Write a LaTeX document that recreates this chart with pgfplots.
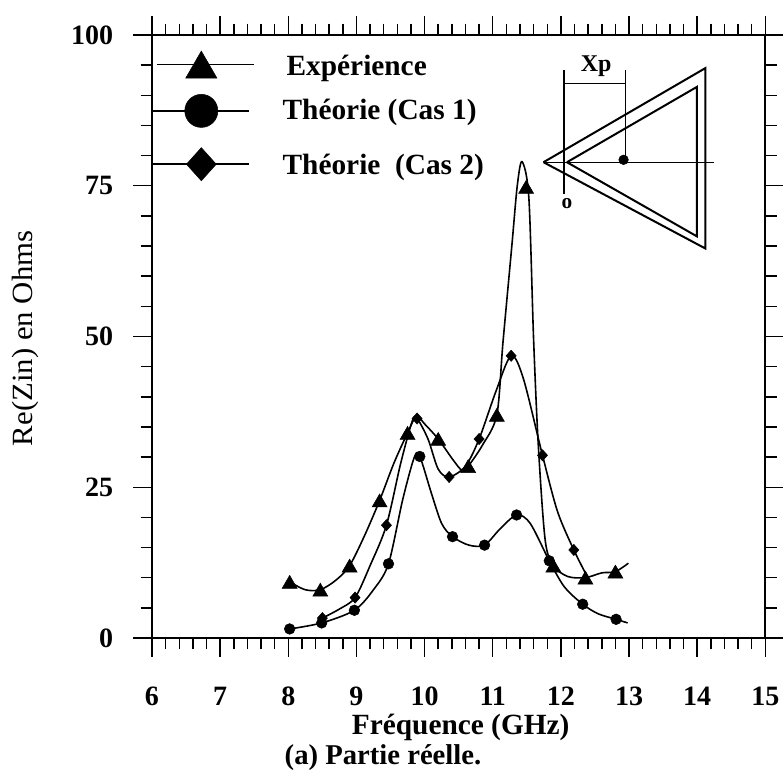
\documentclass[border=0pt]{standalone}
\usepackage{pgfplots}
\pgfplotsset{compat=1.18}
\usepackage{fontspec}
\setmainfont{Liberation Serif}
\usetikzlibrary{plotmarks}
\newcommand{\legimg}[4]{%
  \begin{scope}[yshift=#4]
  \draw[overlay,black,line width=1.3pt] (#1,0pt)--++(73pt,0pt);
  \draw[overlay,black,fill=black,mark options={solid,fill=black,#3}] plot[mark=#2] coordinates {(37pt,0pt)};
  \end{scope}
  \path[draw=none] (0pt,0pt)--(98pt,0pt);}
\begin{document}
\begin{tikzpicture}
\path[use as bounding box] (-114pt,-104.25pt) rectangle (473.25pt,478.5pt);
\begin{axis}[
  scale only axis, width=460pt, height=452.25pt,
  xmin=6, xmax=15, ymin=0, ymax=100,
  clip=false,
  axis line style={line width=1.5pt},
  xtick={6,...,15}, ytick={0,25,50,75,100},
  minor x tick num=4, minor y tick num=4,
  tick align=outside,
  xticklabel pos=bottom, yticklabel pos=left,
  major tick length=14pt, minor tick length=8.5pt,
  every tick/.style={black,line width=1.1pt},
  /pgf/number format/assume math mode=true,
  tick label style={font=\fontsize{21}{23}\selectfont\bfseries,inner sep=0pt},
  xticklabel style={yshift=-22.5pt},
  yticklabel style={xshift=-15pt},
  legend style={draw=none,fill=none,inner sep=0pt,outer sep=0pt,at={(axis cs:6,100.3)},anchor=north west,
    row sep=0pt,column sep=0pt,
    nodes={inner sep=0pt,outer sep=0pt,font=\fontsize{22}{24}\selectfont\bfseries}},
  legend cell align=left,
]
% curves
\addplot[forget plot,black,line width=1.2pt,smooth,tension=0.5] coordinates {
 (8.02,9.3)(8.25,8.0)(8.47,8.0)(8.7,9.6)(8.90,12)(9.12,17)(9.34,22.8)(9.55,29)(9.75,34)(9.88,36.8)(10.0,35.5)(10.2,33)(10.42,29.5)(10.55,27.8)(10.64,28.5)(10.85,32)(11.06,37)(11.15,49)(11.28,65)(11.36,75)(11.43,79)(11.53,73)(11.6,49.4)(11.67,31.7)(11.77,16.2)(11.89,12)(12.1,10.2)(12.36,10)(12.6,10.8)(12.8,11)(12.99,12.4)};
\addplot[forget plot,black,line width=1.2pt,smooth,tension=0.5] coordinates {
 (8.02,1.5)(8.49,2.5)(8.97,4.6)(9.25,8)(9.47,12.3)(9.68,23)(9.85,30)(9.93,30.1)(10.1,24)(10.25,19)(10.41,16.8)(10.65,15.4)(10.88,15.4)(11.1,18)(11.35,20.4)(11.55,19)(11.83,12.8)(12.05,8.5)(12.32,5.6)(12.55,4)(12.81,3.1)(12.98,2.5)};
\addplot[forget plot,black,line width=1.2pt,smooth,tension=0.5] coordinates {
 (8.5,3.3)(8.75,4.8)(8.98,6.7)(9.2,12)(9.44,18.7)(9.65,29)(9.82,36)(9.89,36.4)(10.05,33)(10.2,28)(10.36,26.7)(10.6,28.5)(10.8,33)(11.05,41)(11.27,46.8)(11.45,43)(11.73,30.3)(11.95,21)(12.19,14.6)(12.4,9.9)};
% marks and legend
\addplot[only marks,mark=triangle*,mark size=6.5pt,mark options={fill=black,draw=black,yshift=-1.6pt},
  legend image code/.code={\legimg{3.75pt}{triangle*}{mark size=13.5pt,yshift=-3.4pt}{-6.9pt}}] coordinates {
 (8.02,9.3)(8.47,8.0)(8.90,12)(9.34,22.8)(9.75,34)(10.2,33)(10.64,28.5)(11.06,37)(11.49,74.8)(11.89,12)(12.36,10)(12.8,11)};
\addlegendentry{\rule{0pt}{31.75pt}\smash{\hspace{3pt}Expérience}}
\addplot[only marks,mark=*,mark size=4pt,mark options={fill=black,draw=black},
  legend image code/.code={\legimg{0pt}{*}{mark size=12.4pt}{-8.4pt}}] coordinates {
 (8.02,1.5)(8.49,2.5)(8.97,4.6)(9.47,12.3)(9.93,30.1)(10.41,16.8)(10.88,15.4)(11.35,20.4)(11.83,12.8)(12.32,5.6)(12.81,3.1)};
\addlegendentry{\rule{0pt}{31.75pt}\smash{Théorie (Cas 1)}}
\addplot[only marks,mark=diamond*,mark size=4.2pt,mark options={fill=black,draw=black,xscale=1.2},
  legend image code/.code={\legimg{0pt}{diamond*}{mark size=12.4pt,xscale=1.2}{-11.4pt}}] coordinates {
 (8.5,3.3)(8.98,6.7)(9.44,18.7)(9.89,36.4)(10.36,26.7)(10.8,33)(11.27,46.8)(11.73,30.3)(12.19,14.6)};
\addlegendentry{\rule{0pt}{39.25pt}\smash{Théorie\ \ (Cas 2)}}
% inset antenna
\addplot[forget plot,black,line width=1.5pt] coordinates {(11.745,78.9)(14.119,94.5)(14.119,64.6)(11.745,78.9)};
\addplot[forget plot,black,line width=1.5pt] coordinates {(12.089,78.9)(13.997,91.4)(13.997,66.6)(12.089,78.9)};
\addplot[forget plot,black,line width=1pt] coordinates {(11.745,78.9)(14.241,78.9)};
\addplot[forget plot,black,line width=1.5pt] coordinates {(12.053,94.2)(12.053,73.7)};
\addplot[forget plot,black,line width=1.2pt] coordinates {(12.949,94.2)(12.949,79.3)};
\addplot[forget plot,black,line width=1pt] coordinates {(12.053,92)(12.949,92)};
\addplot[forget plot,only marks,mark=*,mark size=3.6pt,mark options={fill=black,draw=black}] coordinates {(12.92,79.3)};
\node[font=\fontsize{18}{20}\selectfont\bfseries] at (axis cs:12.519,94.9) {Xp};
\node[font=\fontsize{16}{18}\selectfont\bfseries] at (axis cs:12.089,72.0) {o};
% titles
\node[inner sep=0pt,font=\fontsize{22}{24}\selectfont\bfseries] at (axis cs:10.53,-14.8) {Fréquence (GHz)};
\node[inner sep=0pt,font=\fontsize{21.5}{24}\selectfont\bfseries] at (axis cs:9.39,-19.8) {(a) Partie réelle.};
\node[inner sep=0pt,rotate=90,font=\fontsize{22}{24}\selectfont] at (axis cs:4.14,49.7) {\scalebox{1.05}[1]{Re(Zin) en Ohms}};
\end{axis}
\end{tikzpicture}
\end{document}
